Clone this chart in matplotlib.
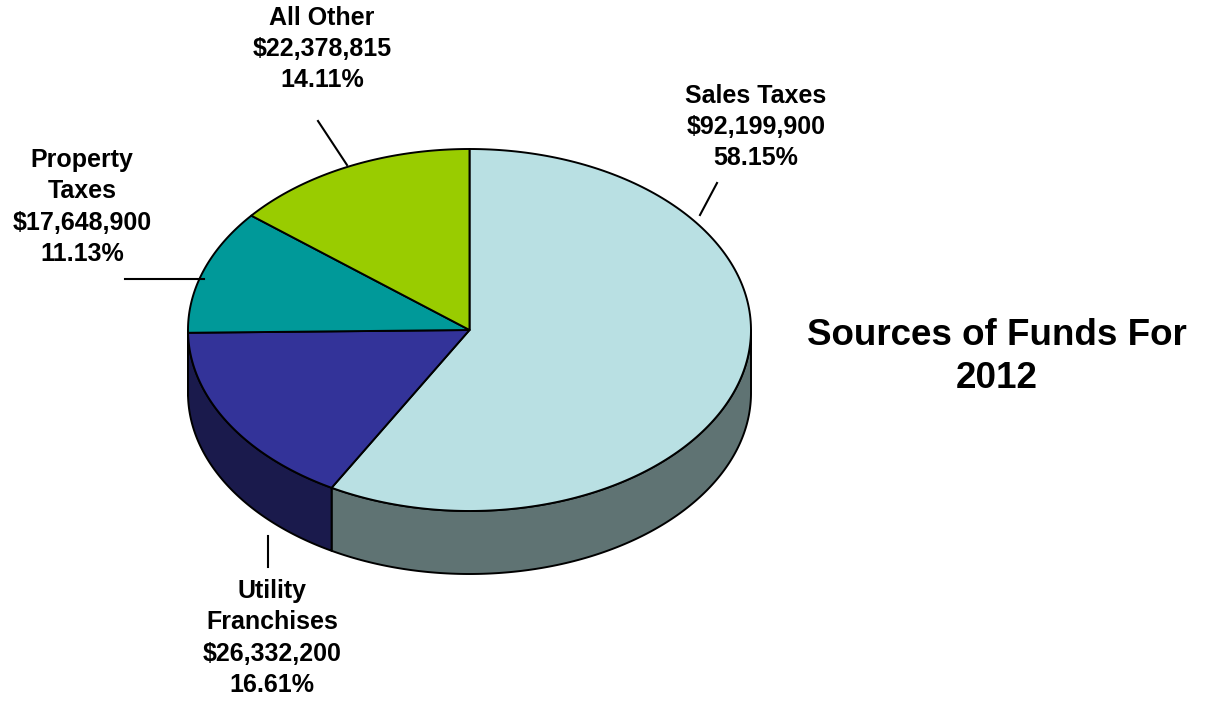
import numpy as np
import matplotlib.pyplot as plt
from matplotlib.patches import Polygon

# data
labels = ["Sales Taxes", "Utility\nFranchises", "Property\nTaxes", "All Other"]
amounts = [92199900, 26332200, 17648900, 22378815]
top_colors = ["#B9E0E3", "#333399", "#009999", "#99CC00"]
side_colors = ["#5F7373", "#1A1A4C", "#005C5C", "#5C7A00"]

# label placement (centre of text block) and leader lines, pixel coords
label_pos = [(756, 127), (272, 638), (82, 207), (322, 49)]
leaders = [((700, 215), (717, 183)),
           ((268, 536), (268, 567)),
           ((125, 279), (204, 279)),
           ((347, 165), (318, 121))]

# pie geometry (pixels)
cx, cy = 469.5, 330
rx, ry = 281.5, 181
depth = 63

plt.rcParams['font.family'] = ['Liberation Sans', 'DejaVu Sans']

fig = plt.figure(figsize=(12.05, 7.02), dpi=100)
ax = fig.add_axes([0, 0, 1, 1])
ax.set_xlim(0, 1205)
ax.set_ylim(702, 0)
ax.axis('off')


def arc(t1, t2, dy=0, n=200):
    t = np.radians(np.linspace(t1, t2, n))
    return np.column_stack([cx + rx * np.cos(t), cy - ry * np.sin(t) + dy])


total = float(sum(amounts))
fracs = [a / total for a in amounts]

# angles: start at top, go clockwise
bounds = []
start = 90.0
for f in fracs:
    end = start - f * 360
    bounds.append((end, start))
    start = end

# side walls (front half only, t in [-180, 0])
for (t1, t2), col in zip(bounds, side_colors):
    lo, hi = max(t1, -180), min(t2, 0)
    if hi > lo:
        top = arc(lo, hi)
        bot = arc(hi, lo, dy=depth)
        ax.add_patch(Polygon(np.vstack([top, bot]), closed=True,
                             facecolor=col, edgecolor='black', lw=1.4,
                             joinstyle='round'))

# top faces
for (t1, t2), col in zip(bounds, top_colors):
    pts = np.vstack([[cx, cy], arc(t1, t2)])
    ax.add_patch(Polygon(pts, closed=True, facecolor=col,
                         edgecolor='black', lw=1.4, joinstyle='round'))

# labels
for lab, amt, f, (lx, ly), (p0, p1) in zip(labels, amounts, fracs,
                                            label_pos, leaders):
    txt = "{}\n${:,}\n{:.2f}%".format(lab, amt, f * 100)
    ax.text(lx, ly, txt, ha='center', va='center', fontsize=18,
            fontweight='bold', linespacing=1.37)
    ax.plot([p0[0], p1[0]], [p0[1], p1[1]], color='black', lw=1.5)

ax.text(997, 357, "Sources of Funds For\n2012", ha='center', va='center',
        fontsize=26.5, fontweight='bold', linespacing=1.27)

fig.savefig("out.png", dpi=100)
